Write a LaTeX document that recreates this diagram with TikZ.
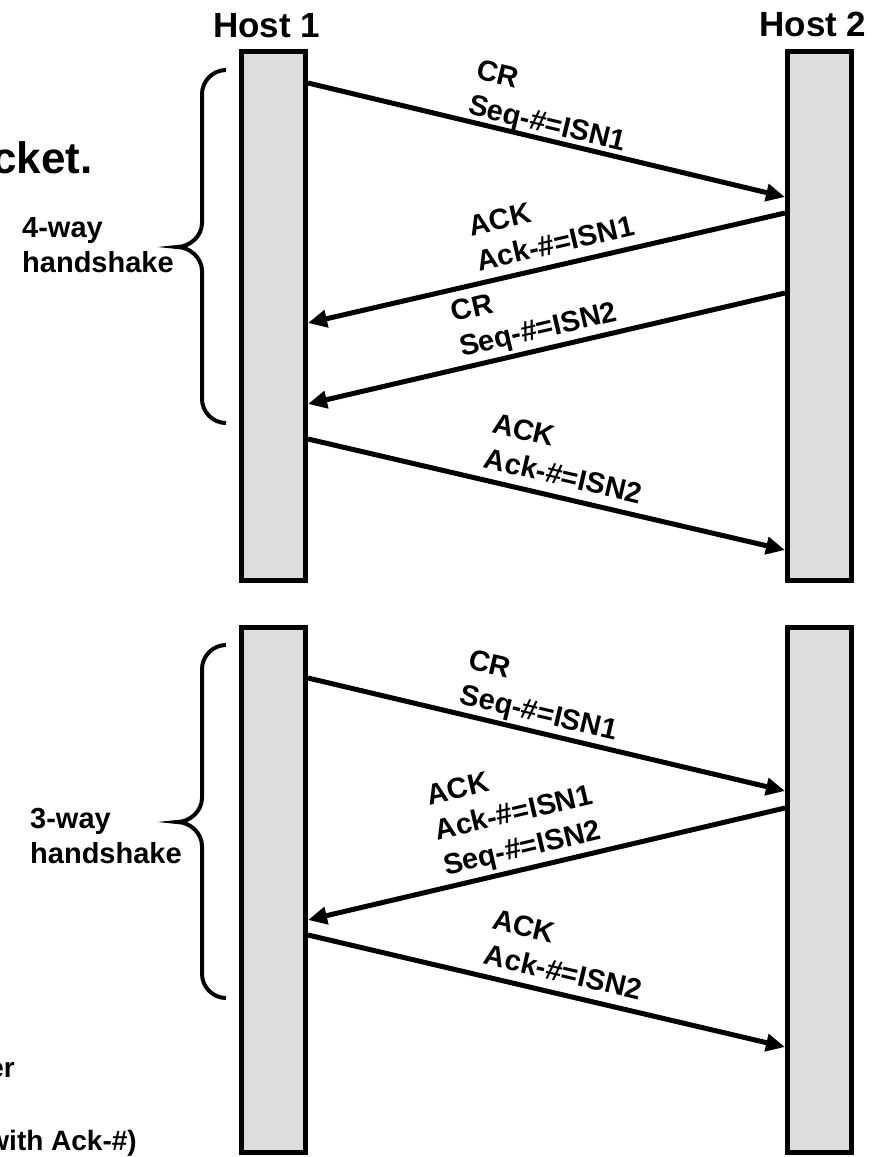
\documentclass[tikz,border=0pt]{standalone}
\usepackage{fontspec}
\setmainfont{Liberation Sans}
\usetikzlibrary{arrows.meta,calc}
\definecolor{barcol}{RGB}{221,221,221}
\tikzset{
  % time line of a host
  hostbar/.style={rectangle, draw=black, fill=barcol, line width=5pt,
                  minimum width=64pt, minimum height=#1, inner sep=0pt},
  % message arrow
  msg/.style={-{Triangle[length=19pt,width=17pt]}, line width=5pt},
  % text on a message
  msglbl/.style={font=\fontsize{29}{36}\selectfont\bfseries, align=left, inner sep=0pt},
  % host name
  hostlbl/.style={font=\fontsize{35}{42}\selectfont\bfseries, inner sep=0pt},
  % text beside a brace
  sidelbl/.style={font=\fontsize{29}{35}\selectfont\bfseries, align=left, inner sep=0pt},
  % brace line
  curly/.style={line width=4pt},
}
\begin{document}
\begin{tikzpicture}[x=1pt, y=-1pt]
  \path[use as bounding box, clip] (0,0) rectangle (878,1157);
  % host bars
  \node[hostbar=529pt] (h1u) at (273.5,316) {};
  \node[hostbar=529pt] (h2u) at (819.5,316) {};
  \node[hostbar=525.5pt] (h1l) at (273.5,889.75) {};
  \node[hostbar=525.5pt] (h2l) at (819.5,889.75) {};
  \node[hostlbl, anchor=base] (host1) at (266.5,37) {Host 1};
  \node[hostlbl, anchor=base] (host2) at (813,36) {Host 2};
  % 4-way handshake
  \draw[msg] (h1u.east |- 0,83) -- (h2u.west |- 0,197)
    node[msglbl, pos=.325, sloped, anchor=base west, yshift=7pt] (cr1) {CR\\Seq-\#=ISN1};
  \draw[msg] (h2u.west |- 0,213) -- (h1u.east |- 0,323)
    node[msglbl, pos=.64, sloped, anchor=base west, yshift=12pt] (ack1) {ACK\\Ack-\#=ISN1};
  \draw[msg] (h2u.west |- 0,293) -- (h1u.east |- 0,404)
    node[msglbl, pos=.677, sloped, anchor=base west, yshift=11pt] (cr2) {CR\\Seq-\#=ISN2};
  \draw[msg] (h1u.east |- 0,439) -- (h2u.west |- 0,550)
    node[msglbl, pos=.356, sloped, anchor=base west, yshift=12pt] (ack2) {ACK\\Ack-\#=ISN2};
  % 3-way handshake
  \draw[msg] (h1l.east |- 0,678) -- (h2l.west |- 0,791)
    node[msglbl, pos=.306, sloped, anchor=base west, yshift=10pt] (crb) {CR\\Seq-\#=ISN1};
  \draw[msg] (h2l.west |- 0,808) -- (h1l.east |- 0,920)
    node[msglbl, pos=.71, sloped, anchor=base west, yshift=12pt] (ackb) {ACK\\Ack-\#=ISN1\\Seq-\#=ISN2};
  \draw[msg] (h1l.east |- 0,935) -- (h2l.west |- 0,1047)
    node[msglbl, pos=.356, sloped, anchor=base west, yshift=12pt] (ackc) {ACK\\Ack-\#=ISN2};
  % braces
  \draw[curly] (226,70) .. controls (213,70) and (202,81) .. (202,94) -- (202,223)
    .. controls (202,236) and (190,247) .. (177,247)
    .. controls (190,247) and (202,258) .. (202,271) -- (202,399)
    .. controls (202,412) and (213,423) .. (226,423);
  \draw[curly] (226,645) .. controls (213,645) and (202,656) .. (202,669) -- (202,798)
    .. controls (202,811) and (190,822) .. (177,822)
    .. controls (190,822) and (202,833) .. (202,846) -- (202,974)
    .. controls (202,987) and (213,998) .. (226,998);
  \node[sidelbl, anchor=base west] (four) at (22,272) {4-way\\handshake};
  \node[sidelbl, anchor=base west] (three) at (30,863) {3-way\\handshake};
  % cut-off slide text
  \node[font=\fontsize{44}{50}\selectfont\bfseries, anchor=base east, inner sep=0pt] (cut1) at (93,173) {cket.};
  \node[font=\fontsize{28}{35}\selectfont\bfseries, anchor=base east, inner sep=0pt] (cut2) at (15,1077) {er};
  \node[font=\fontsize{28}{35}\selectfont\bfseries, anchor=base east, inner sep=0pt] (cut3) at (137,1150) {with Ack-\#)};
\end{tikzpicture}
\end{document}
